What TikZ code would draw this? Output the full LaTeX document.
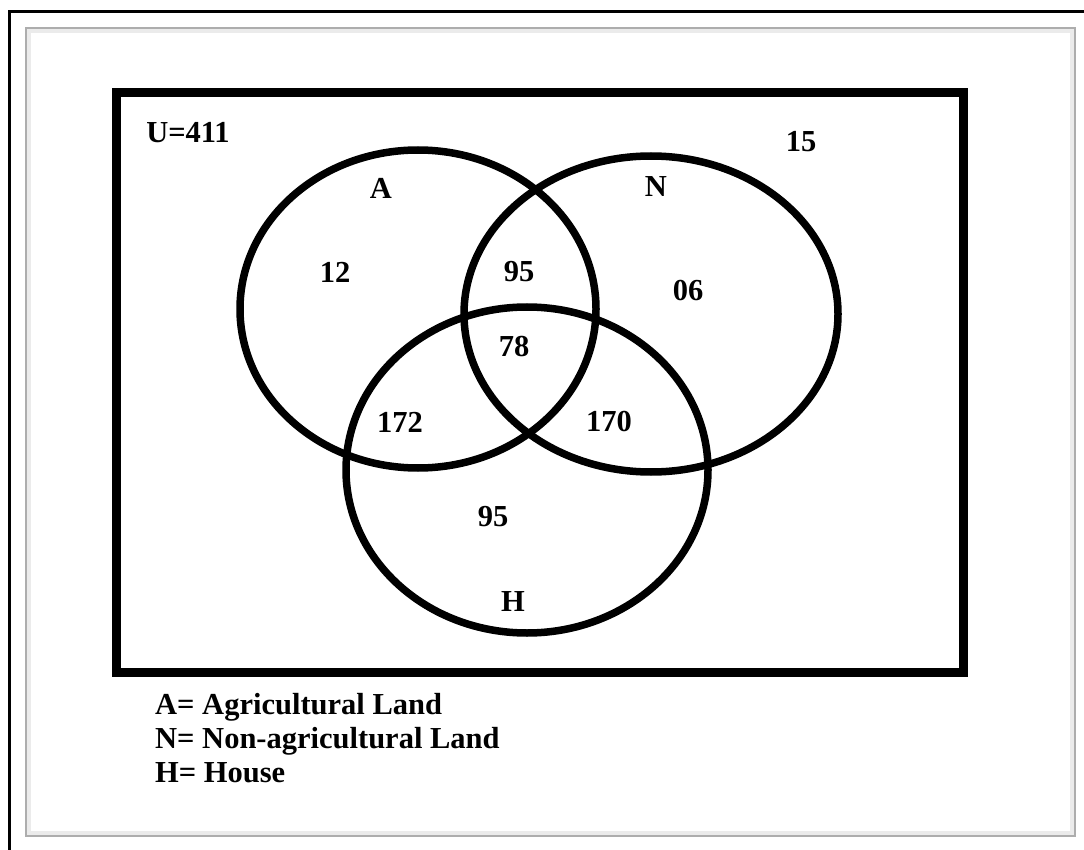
\documentclass[tikz,border=0pt]{standalone}
\usepackage{fontspec}
\setmainfont{Liberation Serif}
\begin{document}
\begin{tikzpicture}[x=1pt,y=-1pt,
  lbl/.style={inner sep=0pt,font=\fontsize{30.5}{34}\selectfont\bfseries},
  setline/.style={line width=7.5pt,black},
  legend/.style={inner sep=0pt,anchor=north west,align=left,font=\fontsize{30.5}{34}\selectfont\bfseries}]
\useasboundingbox (0,0) rectangle (1084,850);
\fill[white] (0,0) rectangle (1084,850);
% outer thin black line
\draw[line width=3pt] (9.5,850) -- (9.5,11.5) -- (1084,11.5);
% shadowed page frame
\draw[line width=5pt,black!8] (28.5,30.5) rectangle (1072.5,833.5);
\draw[line width=2.5pt,black!32] (26,28) rectangle (1075,836);
% universe box
\draw[line width=9pt,line join=miter] (116,93) rectangle (963,672.5);
% sets
\draw[setline] (418,309) ellipse [x radius=178, y radius=159];
\draw[setline] (651,314) ellipse [x radius=187, y radius=158];
\draw[setline] (527,470) ellipse [x radius=181, y radius=163];
% labels
\node[lbl] (u) at (188,133) {U=411};
\node[lbl] (a) at (381,188) {A};
\node[lbl] (n) at (656,187) {N};
\node[lbl] (h) at (513,602) {H};
\node[lbl] (out) at (801,142) {15};
\node[lbl] (ao) at (335,272) {12};
\node[lbl] (an) at (519,272) {95};
\node[lbl] (no) at (688,291) {06};
\node[lbl] (anh) at (514,347) {78};
\node[lbl] (ah) at (400,422) {172};
\node[lbl] (nh) at (609,422) {170};
\node[lbl] (ho) at (493,517) {95};
% legend
\node[legend] (key) at (155,693) {A= Agricultural Land\\N= Non-agricultural Land\\H= House};
\end{tikzpicture}
\end{document}
